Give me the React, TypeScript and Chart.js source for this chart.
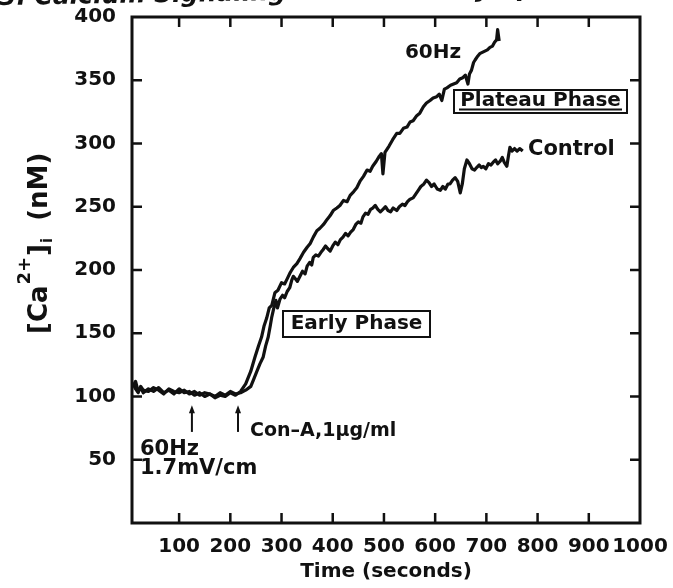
import { useEffect, useRef } from 'react';
import { Chart, registerables } from 'chart.js';

Chart.register(...registerables);

// ---- data (seconds, nM) ----
const hzTimes = [10, 15, 20, 25, 30, 40, 50, 60, 70, 80, 90, 100, 110, 120, 130, 140, 150, 160, 170, 180, 190, 200, 210, 220, 230, 240, 248, 255, 261, 266, 271, 276, 281, 287, 293, 300, 306, 311, 317, 323, 330, 336, 343, 350, 356, 362, 369, 375, 382, 389, 395, 401, 408, 414, 421, 428, 434, 441, 447, 453, 460, 467, 473, 478, 485, 491, 495, 498, 502, 510, 517, 525, 531, 538, 545, 551, 557, 564, 570, 577, 583, 590, 596, 603, 608, 613, 618, 623, 630, 636, 642, 648, 654, 659, 664, 667, 671, 675, 678, 683, 687, 692, 697, 702, 707, 712, 716, 720, 722, 725];
const hzValues = [108, 112, 104, 107, 103, 106, 104, 107, 103, 105, 102, 106, 103, 104, 101, 103, 100, 102, 99, 101, 100, 103, 101, 104, 110, 120, 131, 140, 147, 156, 162, 170, 172, 182, 184, 190, 189, 193, 198, 202, 205, 209, 214, 218, 221, 226, 231, 233, 236, 240, 243, 247, 249, 251, 255, 254, 259, 262, 265, 270, 274, 279, 278, 282, 286, 290, 292, 276, 293, 298, 303, 308, 308, 312, 313, 317, 318, 322, 324, 329, 332, 334, 336, 337, 339, 334, 343, 344, 346, 347, 348, 351, 352, 354, 347, 355, 358, 364, 366, 369, 371, 372, 373, 374, 376, 377, 380, 382, 390, 381];

const ctlTimes = [10, 15, 20, 25, 30, 40, 50, 60, 70, 80, 90, 100, 110, 120, 130, 140, 150, 160, 170, 180, 190, 200, 210, 220, 230, 240, 245, 252, 258, 264, 269, 274, 278, 281, 285, 289, 292, 297, 302, 306, 311, 316, 320, 323, 327, 331, 336, 341, 346, 350, 355, 359, 362, 367, 372, 377, 381, 386, 390, 395, 400, 405, 410, 415, 420, 425, 430, 435, 440, 445, 450, 455, 459, 464, 469, 474, 478, 483, 488, 493, 498, 503, 508, 513, 518, 525, 530, 536, 541, 546, 551, 557, 562, 567, 572, 578, 583, 588, 593, 598, 604, 610, 615, 620, 625, 629, 634, 639, 644, 649, 653, 657, 662, 667, 672, 677, 681, 686, 690, 694, 699, 704, 709, 713, 718, 722, 727, 731, 735, 740, 743, 746, 750, 755, 760, 765, 771];
const ctlValues = [110, 106, 103, 108, 105, 104, 107, 105, 102, 106, 104, 103, 105, 102, 104, 101, 103, 102, 100, 103, 101, 104, 102, 103, 105, 108, 113, 120, 126, 131, 140, 147, 156, 163, 170, 176, 170, 177, 180, 178, 183, 186, 192, 195, 193, 191, 195, 199, 197, 203, 206, 204, 210, 212, 211, 214, 216, 219, 217, 215, 219, 222, 220, 224, 226, 229, 227, 230, 232, 236, 238, 237, 242, 245, 244, 248, 249, 251, 248, 246, 248, 250, 247, 246, 249, 247, 250, 252, 251, 254, 256, 257, 260, 263, 266, 268, 271, 269, 266, 268, 264, 263, 266, 264, 268, 268, 271, 273, 270, 261, 268, 280, 287, 284, 280, 279, 281, 283, 281, 282, 280, 284, 283, 285, 287, 284, 286, 289, 285, 282, 290, 297, 294, 296, 294, 296, 294];

const xTickValues = [100, 200, 300, 400, 500, 600, 700, 800, 900, 1000];
const yTickValues = [50, 100, 150, 200, 250, 300, 350, 400];
const arrowTimes = [125, 215];

const FONT = "'DejaVu Sans', sans-serif";
const INK = '#111';

const toPoints = (ts: number[], vs: number[]) => ts.map((t, i) => ({ x: t, y: vs[i] }));

const decorPlugin = {
  id: 'decor',
  afterDatasetsDraw(chart: any) {
    const { ctx, chartArea: a, scales } = chart;
    const x = scales.x;
    const y = scales.y;
    ctx.save();
    ctx.strokeStyle = INK;
    ctx.fillStyle = INK;

    // frame
    ctx.lineWidth = 3;
    ctx.strokeRect(a.left, a.top, a.right - a.left, a.bottom - a.top);

    // inward ticks on all four sides
    ctx.lineWidth = 2.5;
    ctx.beginPath();
    xTickValues.forEach((v) => {
      if (v >= 1000) return;
      const px = x.getPixelForValue(v);
      ctx.moveTo(px, a.bottom);
      ctx.lineTo(px, a.bottom - 10);
      ctx.moveTo(px, a.top);
      ctx.lineTo(px, a.top + 10);
    });
    yTickValues.forEach((v) => {
      if (v >= 400) return;
      const py = y.getPixelForValue(v);
      ctx.moveTo(a.left, py);
      ctx.lineTo(a.left + 10, py);
      ctx.moveTo(a.right, py);
      ctx.lineTo(a.right - 10, py);
    });
    ctx.stroke();

    // arrows
    arrowTimes.forEach((t) => {
      const px = x.getPixelForValue(t);
      const yTail = y.getPixelForValue(72);
      const yHead = y.getPixelForValue(93);
      ctx.lineWidth = 2;
      ctx.beginPath();
      ctx.moveTo(px, yTail);
      ctx.lineTo(px, yHead + 6);
      ctx.stroke();
      ctx.beginPath();
      ctx.moveTo(px, yHead);
      ctx.lineTo(px - 3, yHead + 8);
      ctx.lineTo(px + 3, yHead + 8);
      ctx.closePath();
      ctx.fill();
    });

    // text annotations
    ctx.textBaseline = 'middle';
    ctx.font = `bold 20px ${FONT}`;
    ctx.textAlign = 'center';
    ctx.fillText('60Hz', 433, 53);
    ctx.textAlign = 'left';
    ctx.font = `bold 21px ${FONT}`;
    ctx.fillText('Control', 528, 150);

    // boxes
    ctx.font = `bold 20px ${FONT}`;
    ctx.lineWidth = 2;
    ctx.strokeRect(454, 90, 173, 23);
    ctx.textAlign = 'center';
    ctx.fillText('Plateau Phase', 540.5, 101);
    ctx.beginPath();
    ctx.moveTo(459, 109.5);
    ctx.lineTo(622, 109.5);
    ctx.stroke();

    ctx.strokeRect(283, 311, 147, 26);
    ctx.fillText('Early Phase', 356.5, 324);

    ctx.textAlign = 'left';
    ctx.font = `bold 19px ${FONT}`;
    ctx.fillText('Con\u2013A,1\u03BCg/ml', 250, 431);
    ctx.font = `bold 21px ${FONT}`;
    ctx.fillText('60Hz', 140, 450);
    ctx.fillText('1.7mV/cm', 140, 469);

    // y-axis title [Ca2+]i (nM)
    ctx.save();
    ctx.translate(47, 334);
    ctx.rotate(-Math.PI / 2);
    ctx.textBaseline = 'alphabetic';
    ctx.textAlign = 'left';
    let pos = 0;
    ctx.font = `bold 26px ${FONT}`;
    ctx.fillText('[Ca', pos, 0);
    pos += ctx.measureText('[Ca').width + 1;
    ctx.font = `bold 18px ${FONT}`;
    ctx.fillText('2+', pos, -17);
    pos += ctx.measureText('2+').width + 1;
    ctx.font = `bold 26px ${FONT}`;
    ctx.fillText(']', pos, 0);
    pos += ctx.measureText(']').width + 1;
    ctx.font = `bold 15px ${FONT}`;
    ctx.fillText('i', pos, 5);
    pos += ctx.measureText('i').width + 8;
    ctx.font = `bold 26px ${FONT}`;
    ctx.fillText(' (nM)', pos, 0);
    ctx.restore();

    // cut-off figure caption at the top edge
    ctx.save();
    ctx.translate(0, 5);
    ctx.rotate(-0.018);
    ctx.font = `italic bold 25px ${FONT}`;
    ctx.textBaseline = 'alphabetic';
    ctx.textAlign = 'left';
    ctx.fillText('3. Calcium Signaling in Human T-Lymphocytes', -1, 0);
    ctx.restore();

    ctx.restore();
  },
};

export default function App() {
  const canvasRef = useRef<HTMLCanvasElement | null>(null);

  useEffect(() => {
    if (!canvasRef.current) return;
    Chart.defaults.font.family = FONT;
    const chart = new Chart(canvasRef.current, {
      type: 'line',
      data: {
        datasets: [
          {
            label: '60Hz',
            data: toPoints(hzTimes, hzValues),
            borderColor: INK,
            borderWidth: 3.2,
            pointRadius: 0,
            tension: 0,
            borderJoinStyle: 'round',
          },
          {
            label: 'Control',
            data: toPoints(ctlTimes, ctlValues),
            borderColor: INK,
            borderWidth: 3.2,
            pointRadius: 0,
            tension: 0,
            borderJoinStyle: 'round',
          },
        ],
      },
      options: {
        animation: false,
        responsive: true,
        maintainAspectRatio: false,
        layout: { padding: { top: 17, right: 33, left: 0, bottom: 0 } },
        plugins: {
          legend: { display: false },
          tooltip: { enabled: false },
        },
        scales: {
          x: {
            type: 'linear',
            min: 8,
            max: 1000,
            grid: { display: false, drawTicks: false },
            border: { display: false },
            ticks: {
              stepSize: 100,
              color: INK,
              padding: 12,
              maxRotation: 0,
              autoSkip: false,
              font: { size: 20, weight: 'bold', family: FONT },
              callback: (v: any) => String(v),
            },
            afterBuildTicks: (scale: any) => {
              scale.ticks = xTickValues.map((v) => ({ value: v }));
            },
            afterFit: (scale: any) => {
              scale.height = 65;
              scale.paddingLeft = 0;
              scale.paddingRight = 0;
              scale.paddingTop = 0;
              scale.paddingBottom = 0;
            },
            title: {
              display: true,
              text: 'Time (seconds)',
              color: INK,
              font: { size: 20, weight: 'bold', family: FONT },
              padding: { top: 0, bottom: 4 },
            },
          },
          y: {
            type: 'linear',
            min: 0,
            max: 400,
            grid: { display: false, drawTicks: false },
            border: { display: false },
            ticks: {
              stepSize: 50,
              color: INK,
              padding: 16,
              autoSkip: false,
              font: { size: 20, weight: 'bold', family: FONT },
              callback: (v: any) => String(v),
            },
            afterBuildTicks: (scale: any) => {
              scale.ticks = yTickValues.map((v) => ({ value: v }));
            },
            afterFit: (scale: any) => {
              scale.width = 132;
              scale.paddingLeft = 0;
              scale.paddingRight = 0;
              scale.paddingTop = 0;
              scale.paddingBottom = 0;
            },
          },
        },
      },
      plugins: [decorPlugin],
    } as any);
    return () => chart.destroy();
  }, []);

  return (
    <div style={{ position: 'absolute', left: 0, top: 0, width: 673, height: 588, background: '#fff' }}>
      <canvas ref={canvasRef} />
    </div>
  );
}
